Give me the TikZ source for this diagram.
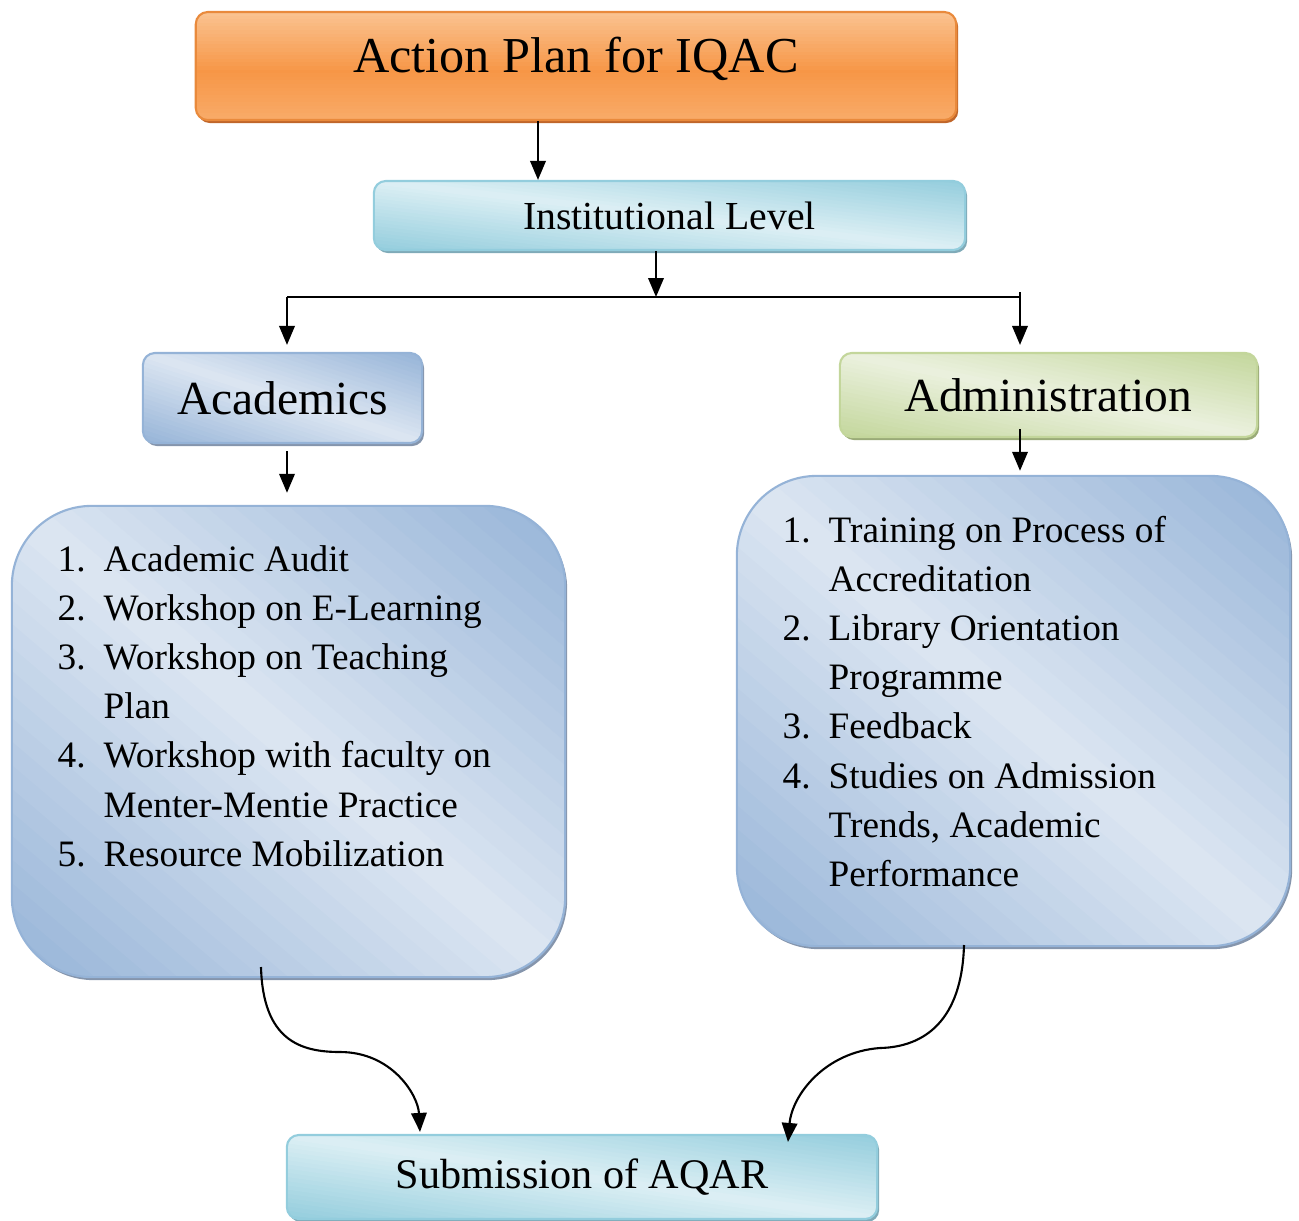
\documentclass[tikz,border=0pt]{standalone}
\usepackage{fontspec}
\setmainfont{Liberation Serif}
\usetikzlibrary{arrows.meta,shadows,calc}
\newcommand{\tipsize}{length=5.4pt,width=4.4pt}
\newcommand{\itemsize}{\fontsize{10.6}{14}\selectfont}
\definecolor{orgL}{HTML}{FAC391}
\definecolor{orgM}{HTML}{F79646}
\definecolor{orgD}{HTML}{E98A3C}
\definecolor{orgS}{HTML}{C0662A}
\definecolor{tealL}{HTML}{DCEFF4}
\definecolor{tealD}{HTML}{93CDDD}
\definecolor{tealS}{HTML}{7FAAB8}
\definecolor{bluL}{HTML}{DCE6F2}
\definecolor{bluD}{HTML}{95B3D7}
\definecolor{bluS}{HTML}{8595AC}
\definecolor{grnL}{HTML}{EBF1DE}
\definecolor{grnD}{HTML}{C3D69B}
\definecolor{grnS}{HTML}{9AAB78}
% gradient fills made of strips, clipped to the box
\newcommand{\diagfill}[2]{%
  \begin{scope}[sharp corners]
    \coordinate (gsw) at (path picture bounding box.south west);
    \coordinate (gse) at (path picture bounding box.south east);
    \coordinate (gnw) at (path picture bounding box.north west);
    \coordinate (gne) at (path picture bounding box.north east);
    \foreach \i in {0,...,39}{
      \pgfmathsetmacro\gta{\i/20}
      \pgfmathsetmacro\gtb{(\i+1.3)/20}
      \pgfmathsetmacro\gtc{\gtb-1}
      \pgfmathsetmacro\gtd{\gta-1}
      \pgfmathtruncatemacro\gmix{100*abs((\i+0.5)/20-1)}
      \fill[#1!\gmix!#2] ($(gsw)!\gta!(gse)$) -- ($(gsw)!\gtb!(gse)$)
        -- ($(gnw)!\gtc!(gne)$) -- ($(gnw)!\gtd!(gne)$) -- cycle;
    }
  \end{scope}}
\newcommand{\vertfill}[2]{%
  \begin{scope}[sharp corners]
    \coordinate (gsw) at (path picture bounding box.south west);
    \coordinate (gse) at (path picture bounding box.south east);
    \coordinate (gnw) at (path picture bounding box.north west);
    \coordinate (gne) at (path picture bounding box.north east);
    \foreach \i in {0,...,29}{
      \pgfmathsetmacro\gva{\i/30}
      \pgfmathsetmacro\gvb{(\i+1.3)/30}
      \pgfmathsetmacro\gvm{(\i+0.5)/30}
      \pgfmathtruncatemacro\gmix{\gvm>0.45 ? 100*(1-\gvm)/0.55 : 55+45*\gvm/0.45}
      \fill[#1!\gmix!#2] ($(gsw)!\gva!(gnw)$) rectangle ($(gse)!\gvb!(gne)$);
    }
  \end{scope}}
\tikzset{
  box/.style={draw, rounded corners=1.2mm, inner sep=0pt, line width=0.6pt},
  boxshadow/.style={drop shadow={fill=#1, opacity=1, path picture={}, shadow xshift=0.2mm, shadow yshift=-0.3mm}},
  orgbox/.style={box, draw=orgD, fill=orgL, boxshadow=orgS, path picture={\vertfill{orgM}{orgL}}},
  tealbox/.style={box, draw=tealD, fill=tealL, boxshadow=tealS, path picture={\diagfill{tealD}{tealL}}},
  blubox/.style={box, draw=bluD, fill=bluL, boxshadow=bluS, path picture={\diagfill{bluD}{bluL}}},
  grnbox/.style={box, draw=grnD, fill=grnL, boxshadow=grnS, path picture={\diagfill{grnD}{grnL}}},
  listbox/.style={blubox, rounded corners=8mm},
  arr/.style={line width=0.6pt, -{Triangle[\tipsize]}},
}

\begin{document}
\begin{tikzpicture}[x=0.01cm, y=-0.01cm]
  \useasboundingbox (0,0) rectangle (1299,1220);

  \node (plan) at (576,66) [orgbox, minimum width=7.6cm, minimum height=1.08cm, text depth=6.5pt, font=\fontsize{14.3}{17}\selectfont] {Action Plan for IQAC};
  \node (inst) at (669.5,215.5) [tealbox, minimum width=5.91cm, minimum height=0.69cm, font=\fontsize{11.3}{13}\selectfont] {Institutional Level};
  \node (acad) at (282.5,398) [blubox, minimum width=2.79cm, minimum height=0.9cm, font=\fontsize{13.5}{16}\selectfont] {Academics};
  \node (admin) at (1048.5,395) [grnbox, minimum width=4.17cm, minimum height=0.84cm, font=\fontsize{13.5}{16}\selectfont] {Administration};
  \node (acl) at (288.5,741.5) [listbox, minimum width=5.53cm, minimum height=4.71cm] {};
  \node (adl) at (1013.5,711) [listbox, minimum width=5.53cm, minimum height=4.7cm] {};
  \node (aqar) at (582,1177) [tealbox, minimum width=5.9cm, minimum height=0.84cm, font=\fontsize{12}{14}\selectfont] {Submission of AQAR};

  \node (acltext) at (57,571) [anchor=base west, inner sep=0pt, font=\itemsize]
    {\begin{tabular}[t]{@{}p{0.46cm}@{}l@{}}
      1. & Academic Audit\\
      2. & Workshop on E-Learning\\
      3. & Workshop on Teaching\\
         & Plan\\
      4. & Workshop with faculty on\\
         & Menter-Mentie Practice\\
      5. & Resource Mobilization
    \end{tabular}};
  \node (adltext) at (782,542) [anchor=base west, inner sep=0pt, font=\itemsize]
    {\begin{tabular}[t]{@{}p{0.46cm}@{}l@{}}
      1. & Training on Process of\\
         & Accreditation\\
      2. & Library Orientation\\
         & Programme\\
      3. & Feedback\\
      4. & Studies on Admission\\
         & Trends, Academic\\
         & Performance
    \end{tabular}};

  % branch points
  \coordinate (split) at (656,297);
  \coordinate (lj) at (287,297);
  \coordinate (rj) at (1020,297);
  \coordinate (rtop) at (1020,292);
  \coordinate (c1) at (261,967);
  \coordinate (c2) at (964,945);

  \draw[arr] (plan.south -| 538,0) -- (inst.north -| 538,0);
  \draw[arr] (inst.south -| split) -- (split);
  \draw[line width=0.6pt] (lj) -- (rj);
  \draw[arr] (lj) -- ([yshift=0.07cm]acad.north -| lj);
  \draw[arr] (rtop) -- ([yshift=0.07cm]admin.north -| rj);
  \draw[arr, shorten <=0.07cm, shorten >=0.12cm] (acad.south -| lj) -- (acl.north -| lj);
  \draw[arr, shorten <=-0.09cm, shorten >=0.04cm] (admin.south -| rj) -- (adl.north -| rj);
  \draw[arr] (c1) .. controls (263,1040) and (300,1052) .. (340,1052)
    .. controls (392,1052) and (418,1095) .. ([yshift=0.02cm]aqar.north -| 420,0);
  \draw[arr] (c2) .. controls (962,1020) and (925,1047) .. (880,1048)
    .. controls (825,1052) and (792,1095) .. ([yshift=-0.08cm]aqar.north -| 788,0);
\end{tikzpicture}
\end{document}
